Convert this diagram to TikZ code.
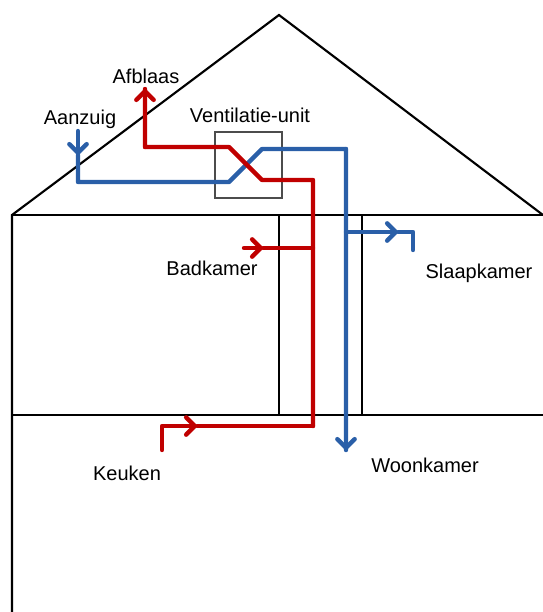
\documentclass[tikz,border=0pt]{standalone}
\usepackage{fontspec}
\setmainfont{Liberation Sans}
\usetikzlibrary{arrows.meta}
\definecolor{afvoer}{HTML}{C00000}
\definecolor{toevoer}{HTML}{2A5FA8}
\tikzset{
	muur/.style={draw=black, line width=1.6pt},
	kanaal/.style={line width=3.3pt, line join=round, line cap=round},
	pijl/.style={-{Straight Barb[length=6.5pt, width=13pt, line width=3.3pt, round]}},
	ruimte/.style={font=\fontsize{15}{18}\selectfont, inner sep=0pt}
}
\begin{document}
\begin{tikzpicture}[x=0.75pt, y=-0.75pt]
	\useasboundingbox (0,0) rectangle (543,612);
	\coordinate (Nok) at (279,15);
	\coordinate (Links) at (12,215);
	\coordinate (Rechts) at (543,215);
	\coordinate (Onder) at (12,612);
	\coordinate (VloerL) at (12,415);
	\coordinate (VloerR) at (543,415);
	\coordinate (Schacht1a) at (279,215);
	\coordinate (Schacht1b) at (279,415);
	\coordinate (Schacht2a) at (362,215);
	\coordinate (Schacht2b) at (362,415);
	\draw[muur] (Rechts) -- (Nok) -- (Links) -- (Onder);
	\draw[muur] (Links) -- (Rechts);
	\draw[muur] (VloerL) -- (VloerR);
	\draw[muur] (Schacht1a) -- (Schacht1b);
	\draw[muur] (Schacht2a) -- (Schacht2b);
	\node[draw=black!70, line width=1.3pt, minimum width=50.25pt, minimum height=49.5pt, inner sep=0pt] (Unit) at (248.5,165) {};
	\node[ruimte] (Afblaas) at (146,76) {Afblaas};
	\node[ruimte] (Aanzuig) at (80,119) {Aanzuig};
	\node[ruimte] (Ventilatie) at (250,115) {Ventilatie-unit};
	\node[ruimte] (Badkamer) at (212,268) {Badkamer};
	\node[ruimte] (Slaapkamer) at (479,273) {Slaapkamer};
	\node[ruimte] (Keuken) at (127,473) {Keuken};
	\node[ruimte] (Woonkamer) at (425,465) {Woonkamer};
	% afvoer
	\coordinate (R1) at (145,89);
	\coordinate (R2) at (145,147);
	\coordinate (R3) at (229,147);
	\coordinate (R4) at (262,180);
	\coordinate (R5) at (313,180);
	\coordinate (R6) at (313,426);
	\coordinate (R7) at (197,426);
	\coordinate (R8) at (162,426);
	\coordinate (R9) at (162,450);
	\coordinate (R10) at (313,248);
	\coordinate (R11) at (263,248);
	\coordinate (R12) at (244,248);
	% toevoer
	\coordinate (B1) at (78,131);
	\coordinate (B2) at (78,155);
	\coordinate (B3) at (78,182);
	\coordinate (B4) at (229,182);
	\coordinate (B5) at (262,149);
	\coordinate (B6) at (346,149);
	\coordinate (B7) at (346,450);
	\coordinate (B8) at (346,232);
	\coordinate (B9) at (398,232);
	\coordinate (B10) at (413,232);
	\coordinate (B11) at (413,250);
	\draw[kanaal, toevoer] (B2) -- (B3) -- (B4) -- (B5) -- (B6) -- (B7);
	\draw[kanaal, afvoer] (R6) -- (R5) -- (R4) -- (R3) -- (R2) -- (R1);
	\draw[kanaal, afvoer] (R7) -- (R6);
	\draw[kanaal, afvoer] (R11) -- (R10);
	\draw[kanaal, toevoer] (B9) -- (B10) -- (B11);
	\draw[kanaal, pijl, afvoer] (R2) -- (R1);
	\draw[kanaal, pijl, afvoer] (R9) -- (R8) -- (R7);
	\draw[kanaal, pijl, afvoer] (R12) -- (R11);
	\draw[kanaal, pijl, toevoer] (B1) -- (B2);
	\draw[kanaal, pijl, toevoer] (B6) -- (B7);
	\draw[kanaal, pijl, toevoer] (B8) -- (B9);
\end{tikzpicture}
\end{document}
